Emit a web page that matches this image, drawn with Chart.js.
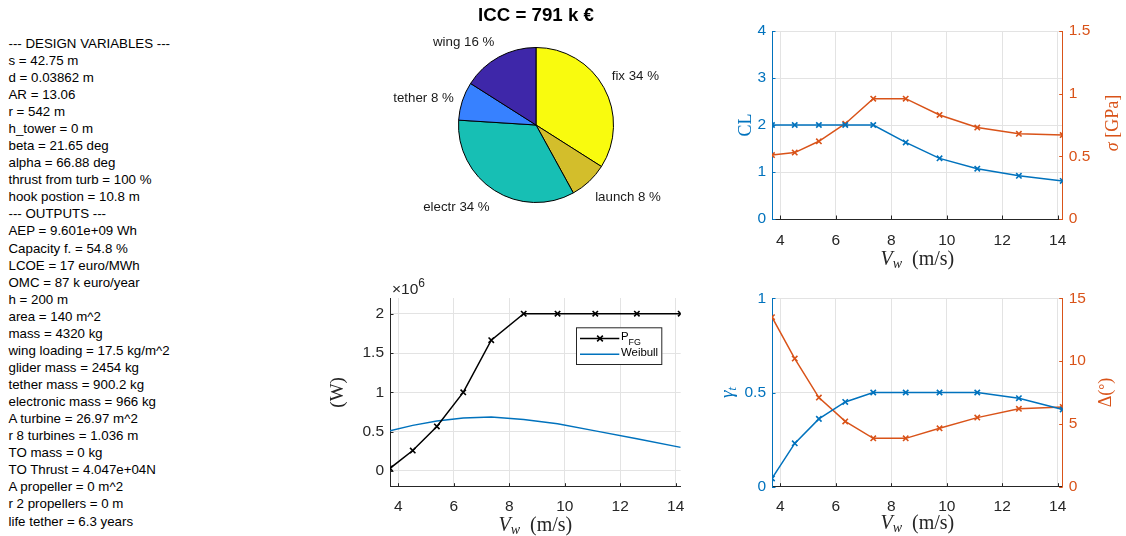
<!DOCTYPE html>
<html>
<head>
<meta charset="utf-8">
<script src="https://cdn.jsdelivr.net/npm/chart.js@4.4.1/dist/chart.umd.min.js"></script>
<style>
  html, body { margin: 0; padding: 0; background: #fff; }
  #page { position: relative; width: 1126px; height: 536px; overflow: hidden; background: #fff; }
  #summary { position: absolute; left: 8.5px; top: 34.8px; font: 13.3px "Liberation Sans", Arial, sans-serif;
             line-height: 17.07px; color: #000; white-space: pre; }
  .panel { position: absolute; }
</style>
</head>
<body>
<div id="page">
  <div id="summary"></div>
  <div class="panel" style="left:380px;top:0;width:310px;height:230px"><canvas id="costPie"></canvas></div>
  <div class="panel" style="left:330px;top:270px;width:370px;height:266px"><canvas id="powerCurve"></canvas></div>
  <div class="panel" style="left:700px;top:0;width:426px;height:280px"><canvas id="liftStress"></canvas></div>
  <div class="panel" style="left:700px;top:280px;width:426px;height:256px"><canvas id="reelAngle"></canvas></div>
</div>
<script>
// ---- design summary ----
const designLines = [
  '--- DESIGN VARIABLES ---', 's = 42.75 m', 'd = 0.03862 m', 'AR = 13.06', 'r = 542 m',
  'h_tower = 0 m', 'beta = 21.65 deg', 'alpha = 66.88 deg', 'thrust from turb = 100 %',
  'hook postion = 10.8 m'
];
const outputLines = [
  '--- OUTPUTS ---', 'AEP = 9.601e+09 Wh', 'Capacity f. = 54.8 %', 'LCOE = 17 euro/MWh',
  'OMC = 87 k euro/year', 'h = 200 m', 'area = 140 m^2', 'mass = 4320 kg',
  'wing loading = 17.5 kg/m^2', 'glider mass = 2454 kg', 'tether mass = 900.2 kg',
  'electronic mass = 966 kg', 'A turbine = 26.97 m^2', 'r 8 turbines = 1.036 m',
  'TO mass = 0 kg', 'TO Thrust = 4.047e+04N', 'A propeller = 0 m^2', 'r 2 propellers = 0 m',
  'life tether = 6.3 years'
];

// ---- investment cost split ----
const iccTotal = 791;                       // k€
const costParts = ['fix', 'launch', 'electr', 'tether', 'wing'];
const costShares = [34, 8, 34, 8, 16];      // %
const costColors = ['#F9FB0E', '#D3BE2B', '#17BFB4', '#3781FF', '#3E27A9'];

// ---- operating points vs wind speed ----
const windSpeed    = [3.7, 4.52, 5.39, 6.34, 7.35, 8.52, 9.74, 11.1, 12.6, 14.18];   // m/s
const liftCoeff    = [2, 2, 2, 2, 2, 1.63, 1.29, 1.07, 0.92, 0.81];
const tetherStress = [0.51, 0.53, 0.62, 0.76, 0.96, 0.96, 0.83, 0.73, 0.68, 0.67];  // GPa
const reelFactor   = [0.044, 0.23, 0.36, 0.45, 0.5, 0.5, 0.5, 0.5, 0.47, 0.41];
const deltaAngle   = [13.5, 10.2, 7.1, 5.2, 3.85, 3.85, 4.65, 5.5, 6.2, 6.35];     // deg
const powerFG      = [0.034e6, 0.26e6, 0.566e6, 1.0e6, 1.664e6, 2e6, 2e6, 2e6, 2e6, 2e6]; // W
const weibullPower = [0.51e6, 0.58e6, 0.635e6, 0.675e6, 0.685e6, 0.655e6, 0.60e6, 0.51e6, 0.41e6, 0.30e6]; // W

// ---- tick labels ----
const windTicks   = [4, 6, 8, 10, 12, 14];
const liftTicks   = [0, 1, 2, 3, 4];
const stressTicks = [0, 0.5, 1, 1.5];
const reelTicks   = [0, 0.5, 1];
const deltaTicks  = [0, 5, 10, 15];
const powerTicks  = [0, 0.5e6, 1e6, 1.5e6, 2e6];

document.getElementById('summary').textContent = designLines.concat(outputLines).join('\n');

// ---- shared styling ----
const INK = '#262626', GRID = '#e3e3e3', BLUE = '#0072BD', ORANGE = '#D95319';
const SANS = '"Liberation Sans", Arial, Helvetica, sans-serif';
const SERIF = '"Liberation Serif", "Times New Roman", serif';
const tickFont = { family: SANS, size: 15.5 };

const fmt = v => String(Math.round(v * 1000) / 1000);
const fixedTicks = values => scale => { scale.ticks = values.map(v => ({ value: v })); };
const pts = ys => windSpeed.map((x, i) => ({ x, y: ys[i] }));

// short inward tick marks along every drawn axis line
Chart.register({
  id: 'innerTicks',
  afterDatasetsDraw(chart) {
    const a = chart.chartArea, ctx = chart.ctx, len = 3.5;
    ctx.save();
    ctx.lineWidth = 1;
    Object.values(chart.scales).forEach(s => {
      if (!s.options.border || !s.options.border.display) return;
      ctx.strokeStyle = s.options.border.color;
      ctx.beginPath();
      s.ticks.forEach(t => {
        const p = Math.round(s.getPixelForValue(t.value)) + 0.5;
        if (s.isHorizontal()) { ctx.moveTo(p, a.bottom); ctx.lineTo(p, a.bottom - len); }
        else if (s.position === 'left') { ctx.moveTo(a.left, p); ctx.lineTo(a.left + len, p); }
        else { ctx.moveTo(a.right, p); ctx.lineTo(a.right - len, p); }
      });
      ctx.stroke();
    });
    ctx.restore();
  }
});

// draws a run of text pieces (mixed fonts, sub/superscripts), optionally rotated to read upward
function drawRich(ctx, parts, x, y, rotate, align) {
  ctx.save();
  ctx.translate(x, y);
  if (rotate) ctx.rotate(-Math.PI / 2);
  let total = 0;
  const widths = parts.map(p => { ctx.font = p.font; const w = ctx.measureText(p.text).width; total += w; return w; });
  let cx = align === 'left' ? 0 : (align === 'right' ? -total : -total / 2);
  ctx.textBaseline = 'middle';
  ctx.textAlign = 'left';
  parts.forEach((p, i) => {
    ctx.font = p.font;
    ctx.fillStyle = p.color;
    ctx.fillText(p.text, cx, p.dy || 0);
    cx += widths[i];
  });
  ctx.restore();
}

const serif = (size, italic) => (italic ? 'italic ' : '') + size + 'px ' + SERIF;
const windCaption = [
  { text: 'V', font: serif(20, true), color: INK },
  { text: 'w', font: serif(14, true), color: INK, dy: 4 },
  { text: '  (m/s)', font: serif(20), color: INK }
];

// captions placed relative to the plot area
function captionPlugin(items) {
  return {
    id: 'captions',
    afterDraw(chart) {
      const a = chart.chartArea, ctx = chart.ctx;
      const midX = (a.left + a.right) / 2, midY = (a.top + a.bottom) / 2;
      items.forEach(it => {
        let x, y;
        if (it.side === 'bottom') { x = midX; y = a.bottom + it.offset; }
        else if (it.side === 'left') { x = a.left - it.offset; y = midY + (it.shift || 0); }
        else if (it.side === 'right') { x = a.right + it.offset; y = midY + (it.shift || 0); }
        else { x = a.left + it.offset; y = a.top + (it.shift || 0); }
        drawRich(ctx, it.parts, x, y, it.side === 'left' || it.side === 'right', it.align);
      });
    }
  };
}

function xScale(axisHeight, labelPad) {
  return {
    type: 'linear', position: 'bottom',
    min: windSpeed[0], max: windSpeed[windSpeed.length - 1],
    afterBuildTicks: fixedTicks(windTicks),
    afterFit: s => { s.height = axisHeight; },
    grid: { color: GRID, drawTicks: false },
    border: { display: true, color: INK, width: 1 },
    ticks: { color: INK, font: tickFont, padding: labelPad, maxRotation: 0, autoSkip: false, callback: v => fmt(v) }
  };
}

function yScale(position, min, max, ticks, color, axisWidth, showGrid, labelFn) {
  return {
    type: 'linear', position, min, max,
    afterBuildTicks: fixedTicks(ticks),
    afterFit: s => { s.width = axisWidth; },
    grid: { display: showGrid, color: GRID, drawTicks: false },
    border: { display: true, color, width: 1 },
    ticks: { color, font: tickFont, padding: 6, autoSkip: false, callback: labelFn || (v => fmt(v)) }
  };
}

function markedLine(ys, color, axis) {
  return {
    data: pts(ys), yAxisID: axis, borderColor: color, backgroundColor: color,
    borderWidth: 1.5, pointStyle: 'crossRot', pointRadius: 3.8, pointBorderWidth: 1.6,
    pointBorderColor: color, tension: 0
  };
}

const baseOptions = {
  responsive: true, maintainAspectRatio: false, animation: false,
  plugins: { legend: { display: false }, tooltip: { enabled: false } }
};

// ---- cost pie ----
const pieText = {
  id: 'pieText',
  afterDraw(chart) {
    const ctx = chart.ctx;
    const meta = chart.getDatasetMeta(0);
    ctx.save();
    ctx.fillStyle = '#000';
    ctx.font = 'bold 18.7px ' + SANS;
    ctx.textAlign = 'center';
    ctx.textBaseline = 'middle';
    const a = chart.chartArea;
    ctx.fillText('ICC = ' + iccTotal + ' k \u20AC', (a.left + a.right) / 2, 16);
    ctx.font = '13.3px ' + SANS;
    ctx.fillStyle = '#1a1a1a';
    meta.data.forEach((arc, i) => {
      const p = arc.getProps(['x', 'y', 'startAngle', 'endAngle', 'outerRadius'], true);
      const mid = (p.startAngle + p.endAngle) / 2;
      const r = p.outerRadius * 1.115;
      const lx = p.x + Math.cos(mid) * r;
      const s = Math.sin(mid);
      let ly = p.y + s * r;
      if (s < -0.4) ly -= 7; else if (s > 0.4) ly += 9.5;
      ctx.textAlign = Math.cos(mid) >= 0 ? 'left' : 'right';
      ctx.fillText(costParts[i] + ' ' + costShares[i] + ' %', lx, ly);
    });
    ctx.restore();
  }
};

new Chart(document.getElementById('costPie'), {
  type: 'pie',
  data: {
    labels: costParts,
    datasets: [{ data: costShares, backgroundColor: costColors, borderColor: '#000', borderWidth: 1 }]
  },
  options: Object.assign({}, baseOptions, { layout: { padding: { left: 78, right: 76, top: 47, bottom: 27 } } }),
  plugins: [pieText]
});

// ---- power curve ----
const powerLegend = {
  id: 'powerLegend',
  afterDraw(chart) {
    const a = chart.chartArea, ctx = chart.ctx;
    const bx = a.left + 186, by = a.top + 29.3, bw = 86.3, bh = 37.7;
    ctx.save();
    ctx.fillStyle = '#fff';
    ctx.fillRect(bx, by, bw, bh);
    ctx.strokeStyle = INK;
    ctx.lineWidth = 1;
    ctx.strokeRect(bx + 0.5, by + 0.5, bw - 1, bh - 1);
    const rows = [
      { ds: chart.data.datasets[0], y: by + 11.2, parts: [
        { text: 'P', font: '11.4px ' + SANS, color: '#000', dy: -1.5 },
        { text: 'FG', font: '8.9px ' + SANS, color: '#000', dy: 4.5 }] },
      { ds: chart.data.datasets[1], y: by + 27, parts: [
        { text: 'Weibull', font: '11.4px ' + SANS, color: '#000', dy: -1 }] }
    ];
    rows.forEach(r => {
      ctx.strokeStyle = r.ds.borderColor;
      ctx.lineWidth = r.ds.borderWidth;
      ctx.beginPath();
      ctx.moveTo(bx + 4, r.y);
      ctx.lineTo(bx + 43.3, r.y);
      ctx.stroke();
      if (r.ds.pointRadius > 0) {
        const m = bx + 24, d = r.ds.pointRadius * 0.75;
        ctx.lineWidth = r.ds.pointBorderWidth;
        ctx.beginPath();
        ctx.moveTo(m - d, r.y - d); ctx.lineTo(m + d, r.y + d);
        ctx.moveTo(m - d, r.y + d); ctx.lineTo(m + d, r.y - d);
        ctx.stroke();
      }
      drawRich(ctx, r.parts, bx + 45, r.y, false, 'left');
    });
    ctx.restore();
  }
};

new Chart(document.getElementById('powerCurve'), {
  type: 'line',
  data: {
    datasets: [
      markedLine(powerFG, '#000', 'y'),
      { data: pts(weibullPower), yAxisID: 'y', borderColor: BLUE, backgroundColor: BLUE,
        borderWidth: 1.5, pointRadius: 0, tension: 0 }
    ]
  },
  options: Object.assign({}, baseOptions, {
    layout: { padding: { top: 28, right: 19.3, left: 0, bottom: 0 } },
    scales: {
      x: xScale(49.3, 11),
      y: yScale('left', -0.2e6, 2.2e6, powerTicks, INK, 60, true, v => fmt(v / 1e6))
    }
  }),
  plugins: [powerLegend, captionPlugin([
    { side: 'bottom', offset: 39.3, parts: windCaption },
    { side: 'left', offset: 52, parts: [{ text: '(W)', font: serif(19), color: INK }] },
    { side: 'top', offset: 2, shift: -8.5, align: 'left', parts: [
      { text: '\u00D710', font: '15.5px ' + SANS, color: INK },
      { text: '6', font: '12px ' + SANS, color: INK, dy: -6 }] }
  ])]
});

// ---- lift coefficient & tether stress ----
new Chart(document.getElementById('liftStress'), {
  type: 'line',
  data: { datasets: [markedLine(liftCoeff, BLUE, 'y'), markedLine(tetherStress, ORANGE, 'y1')] },
  options: Object.assign({}, baseOptions, {
    layout: { padding: { top: 31, right: 0, left: 0, bottom: 0 } },
    scales: {
      x: xScale(61, 12),
      y: yScale('left', 0, 4, liftTicks, BLUE, 72, true),
      y1: yScale('right', 0, 1.5, stressTicks, ORANGE, 63.3, false)
    }
  }),
  plugins: [captionPlugin([
    { side: 'bottom', offset: 41, parts: windCaption },
    { side: 'left', offset: 26.2, parts: [{ text: 'CL', font: serif(18), color: BLUE }] },
    { side: 'right', offset: 50.6, shift: -2, parts: [
      { text: '\u03C3', font: serif(18, true), color: ORANGE },
      { text: ' [GPa]', font: serif(18), color: ORANGE }] }
  ])]
});

// ---- reeling factor & angle ----
new Chart(document.getElementById('reelAngle'), {
  type: 'line',
  data: { datasets: [markedLine(reelFactor, BLUE, 'y'), markedLine(deltaAngle, ORANGE, 'y1')] },
  options: Object.assign({}, baseOptions, {
    layout: { padding: { top: 18.3, right: 0, left: 0, bottom: 0 } },
    scales: {
      x: xScale(49.3, 11),
      y: yScale('left', 0, 1, reelTicks, BLUE, 72, true),
      y1: yScale('right', 0, 15, deltaTicks, ORANGE, 63.3, false)
    }
  }),
  plugins: [captionPlugin([
    { side: 'bottom', offset: 37.5, parts: windCaption },
    { side: 'left', offset: 44, parts: [
      { text: '\u03B3', font: serif(19, true), color: BLUE },
      { text: 't', font: serif(13.5, true), color: BLUE, dy: 4 }] },
    { side: 'right', offset: 44, parts: [
      { text: '\u0394(', font: serif(18), color: ORANGE },
      { text: '\u00B0', font: serif(15), color: ORANGE, dy: -2 },
      { text: ')', font: serif(18), color: ORANGE }] }
  ])]
});
</script>
</body>
</html>
